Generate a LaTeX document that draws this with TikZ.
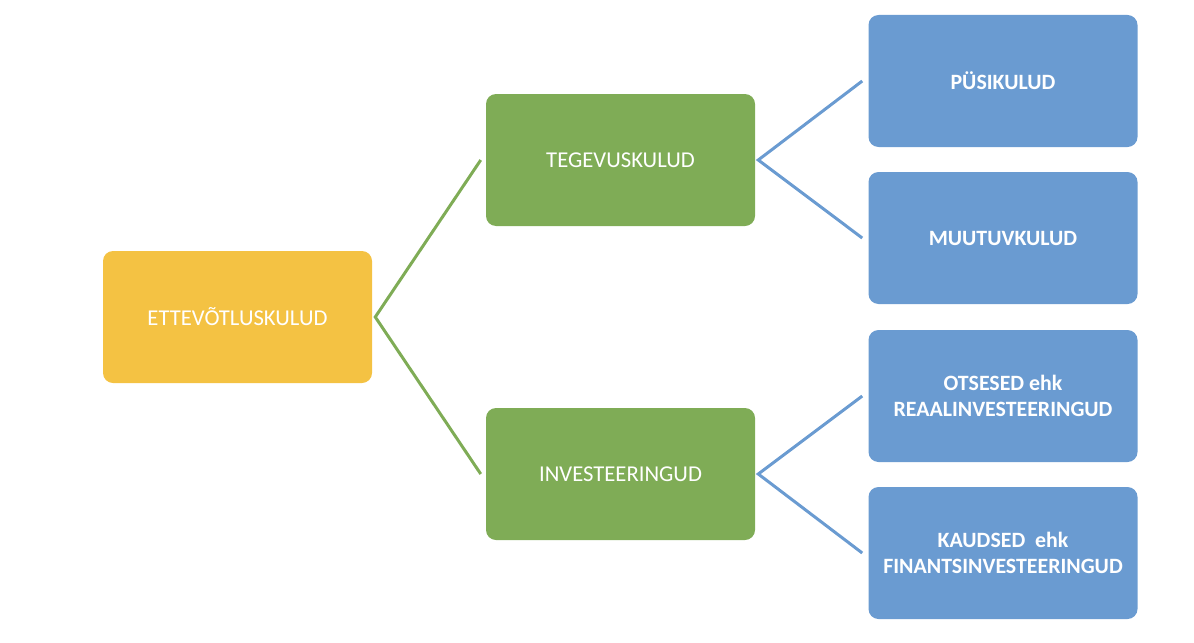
\documentclass[tikz,border=0pt]{standalone}
\usepackage{fontspec}
\setmainfont{Carlito}
\definecolor{cyellow}{HTML}{F4C243}
\definecolor{cgreen}{HTML}{7FAC56}
\definecolor{cblue}{HTML}{6A9BD1}
\begin{document}
\begin{tikzpicture}[x=0.75pt,y=-0.75pt,
  box/.style={rounded corners=7.5pt, minimum width=201.75pt, minimum height=99pt, inner sep=0pt, text=white, align=center, font=\fontsize{17pt}{20pt}\selectfont},
  ybox/.style={box, fill=cyellow},
  gbox/.style={box, fill=cgreen},
  bbox/.style={box, fill=cblue, font=\fontsize{16.4pt}{20pt}\selectfont\bfseries},
  gline/.style={draw=cgreen, line width=2.25pt},
  bline/.style={draw=cblue, line width=2.25pt}]
\useasboundingbox (0,0) rectangle (1194,642);
\node[ybox] (root) at (237.5,317) {ETTEVÕTLUSKULUD};
\node[gbox] (teg) at (620.5,160) {TEGEVUSKULUD};
\node[gbox] (inv) at (620.5,474) {INVESTEERINGUD};
\node[bbox] (pys) at (1003,81) {PÜSIKULUD};
\node[bbox] (muu) at (1003,238) {MUUTUVKULUD};
\node[bbox] (ots) at (1003,396) {OTSESED ehk\\REAALINVESTEERINGUD};
\node[bbox] (kau) at (1003,553) {KAUDSED\ \ ehk\\FINANTSINVESTEERINGUD};
\coordinate (r0) at ([xshift=2.25pt]root.east);
\coordinate (t0) at ([xshift=2.25pt]teg.east);
\coordinate (i0) at ([xshift=2.25pt]inv.east);
\draw[gline] ([xshift=-3.75pt]teg.west) -- (r0) -- ([xshift=-3.75pt]inv.west);
\draw[bline] ([xshift=-4.5pt]pys.west) -- (t0) -- ([xshift=-4.5pt]muu.west);
\draw[bline] ([xshift=-4.5pt]ots.west) -- (i0) -- ([xshift=-4.5pt]kau.west);
\end{tikzpicture}
\end{document}
